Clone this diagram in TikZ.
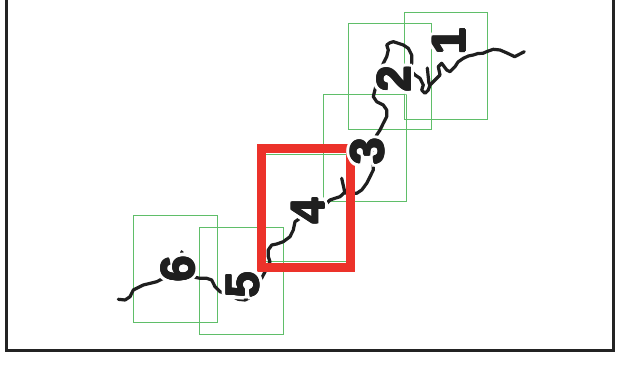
\documentclass[tikz,border=0pt]{standalone}
\usepackage{fontspec}
\setmainfont{Liberation Sans}
\definecolor{mapgreen}{RGB}{95,190,105}
\definecolor{mapred}{RGB}{236,50,42}
\definecolor{framegray}{RGB}{35,35,35}
\tikzset{
  sheet/.style={draw=mapgreen, line width=0.9pt, inner sep=0pt, outer sep=0pt},
  coast/.style={draw=black!88, line width=3.2pt, line join=round, line cap=round},
  focus/.style={draw=mapred, line width=9pt, inner sep=0pt, outer sep=0pt},
  num/.style={font=\bfseries\fontsize{47}{47}\selectfont, rotate=90, inner sep=0pt, text=black!88},
  numhalo/.style={num, text=white},
  mapframe/.style={draw=framegray, line width=2.6pt},
}
\begin{document}
\begin{tikzpicture}[x=1pt,y=-1pt]
\useasboundingbox (0,0) rectangle (619,366);
\fill[white] (0,0) rectangle (619,366);
% frame (top edge lies outside the picture)
\coordinate (ftl) at (6.5,-5);
\coordinate (fbl) at (6.5,350.5);
\coordinate (fbr) at (613.5,350.5);
\coordinate (ftr) at (613.5,-5);
\draw[mapframe] (ftl) -- (fbl) -- (fbr) -- (ftr);
% map sheets
\node[sheet, minimum width=83.4pt, minimum height=106.7pt] (s1) at (446,65.7) {};
\node[sheet, minimum width=83.4pt, minimum height=106.4pt] (s2) at (390,76.5) {};
\node[sheet, minimum width=83.4pt, minimum height=106.5pt] (s3) at (365,148) {};
\node[sheet, minimum width=81pt, minimum height=107pt] (s4) at (305.8,207.8) {};
\node[sheet, minimum width=84pt, minimum height=106.6pt] (s5) at (241,281) {};
\node[sheet, minimum width=84pt, minimum height=107pt] (s6) at (175,269.2) {};
% coastline
\draw[coast] (524.3,51.7) -- (514.7,56.7) -- (507,53) -- (500,50) -- (493.3,49.3) -- (487,51.5) -- (483,53.3) -- (478,53.5) -- (473.3,55) -- (468.3,56) -- (463.3,58.3) -- (458,62) -- (455,66.7) -- (450,71.7) -- (446.7,70) -- (441.7,63.3) -- (438.3,66.7) -- (440,75) -- (435,80) -- (430,85) -- (428.3,90) -- (425,93.3) -- (421.7,90) -- (423.3,85) -- (420,78.3) -- (415,75) -- (410,70) -- (411.7,63.3) -- (411.7,55) -- (408.3,48.3) -- (403.3,45) -- (398.3,43.3) -- (393.3,41.7) -- (390,42.7) -- (386.7,45) -- (388.3,50) -- (386.7,56.7) -- (383.3,63.3) -- (378,78) -- (374.5,91.7) -- (373.3,96.7) -- (376.7,101.7) -- (383.3,105) -- (386.7,110) -- (386.7,116.7) -- (383.3,123.3) -- (380,130) -- (376.7,135) -- (372,148) -- (373.3,161.7) -- (373.3,170) -- (370,176.7) -- (366.7,183.3) -- (361.7,190) -- (356.7,193.3) -- (350,193.3) -- (345,192) -- (340,196.7) -- (335,198.3) -- (330,200) -- (326.7,203.3) -- (310,212) -- (300,218.3) -- (295,221.7) -- (293.3,230) -- (290,236.7) -- (283.3,241.7) -- (276.7,244) -- (271.7,245) -- (268.3,250) -- (268.3,256.7) -- (270,261.7) -- (266,270) -- (258,285) -- (251.7,296.7) -- (245,300) -- (238.3,299.3) -- (230,295) -- (220,291.7) -- (215,286.7) -- (211.7,280) -- (206.7,278.3) -- (200,278.3) -- (195,277.3) -- (180,262) -- (170,275) -- (156.7,281.7) -- (143.3,285) -- (133.3,290) -- (130,296.7) -- (125,300) -- (118.3,299.3);
\draw[coast] (427.3,68) -- (429,84);
\draw[coast] (341.7,178.3) -- (345,193.3);
\draw[coast] (181.7,251.7) -- (183,256.7);
% focus sheet
\node[focus, minimum width=89pt, minimum height=119.5pt] (s4focus) at (306,208) {};
% sheet numbers with white halo, set heavy
\foreach \t/\px/\py in {1/449/41.5, 2/394/79, 3/367.5/151.5, 4/308/211, 5/243/285, 6/178/269}{
  \foreach \a [count=\k] in {0,30,...,330}
    \node[numhalo] (halo\t-\k) at ([shift={(\a:4.2pt)}]\px,\py) {\t};
  \foreach \a [count=\k] in {0,45,...,315}
    \node[num] (heavy\t-\k) at ([shift={(\a:0.9pt)}]\px,\py) {\t};
  \node[num] (lab\t) at (\px,\py) {\t};
}
\end{tikzpicture}
\end{document}
